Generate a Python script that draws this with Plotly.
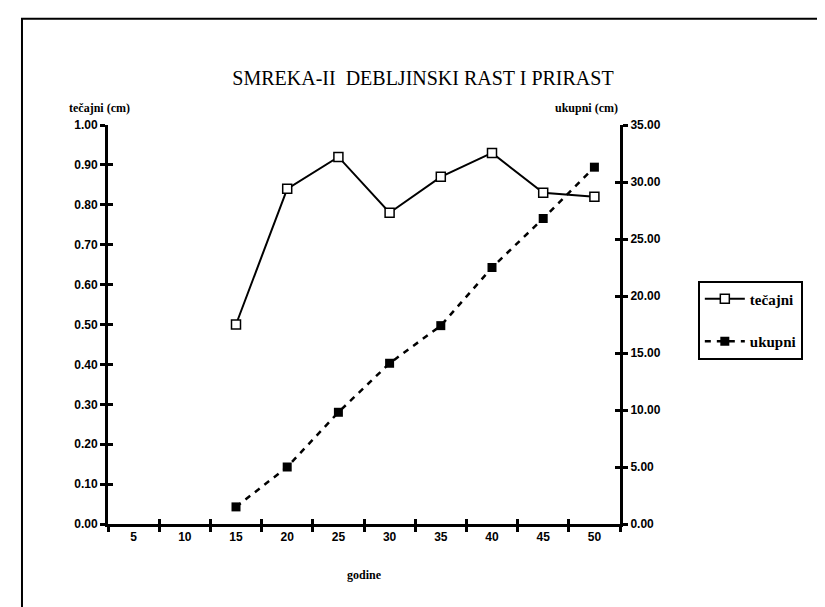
import plotly.graph_objects as go

# podaci procitani sa slike
godine = ['5', '10', '15', '20', '25', '30', '35', '40', '45', '50']
tecajni = [None, None, 0.50, 0.84, 0.92, 0.78, 0.87, 0.93, 0.83, 0.82]
ukupni = [None, None, 1.5, 5.0, 9.8, 14.1, 17.4, 22.5, 26.8, 31.3]

tick_font = dict(family='Liberation Sans Narrow, Liberation Sans, Arial', size=12,
                 color='black', weight='bold')
serif = 'Liberation Serif, Times New Roman, serif'

fig = go.Figure()

fig.add_trace(go.Scatter(
    x=godine, y=tecajni, name='tečajni', mode='lines+markers', legendgroup='a',
    line=dict(color='black', width=2),
    marker=dict(symbol='square', size=9, color='white',
                line=dict(color='black', width=1.5)),
))
fig.add_trace(go.Scatter(
    x=godine, y=ukupni, name='ukupni', mode='lines+markers', yaxis='y2',
    legendgroup='b',
    line=dict(color='black', width=2.5, dash='6px,6px'),
    marker=dict(symbol='square', size=9, color='black'),
))
# pomocni tragovi samo da se nacrtaju unutrasnje crtice (kriz-ticks)
fig.add_trace(go.Scatter(x=godine, y=tecajni, xaxis='x2', yaxis='y3',
                         mode='none', showlegend=False, hoverinfo='skip'))
fig.add_trace(go.Scatter(x=godine, y=ukupni, xaxis='x2', yaxis='y4',
                         mode='none', showlegend=False, hoverinfo='skip'))

axis_style = dict(showline=True, linecolor='black', linewidth=3, showgrid=False,
                  zeroline=False, ticks='outside', ticklen=5, tickwidth=2.5,
                  tickcolor='black', tickfont=tick_font)
inner_style = dict(showline=False, showgrid=False, zeroline=False, ticks='inside',
                   ticklen=5, tickwidth=2.5, tickcolor='black', showticklabels=False)

fig.update_layout(
    width=825, height=607,
    margin=dict(l=100, r=213, t=117, b=91, autoexpand=False),
    paper_bgcolor='white', plot_bgcolor='white',
    title=dict(text='SMREKA-II  DEBLJINSKI RAST I PRIRAST', x=0.503, xref='container',
               y=0.885, yanchor='middle',
               font=dict(family=serif, size=20, color='black')),
    xaxis=dict(type='category', categoryorder='array', categoryarray=godine,
               range=[-0.5, 9.5], tickson='boundaries', **axis_style),
    xaxis2=dict(type='category', categoryorder='array', categoryarray=godine,
                range=[-0.5, 9.5], tickson='boundaries', overlaying='x',
                side='bottom', **inner_style),
    yaxis=dict(range=[0, 1], dtick=0.1, tickformat='.2f', **axis_style),
    yaxis2=dict(range=[0, 35], dtick=5, tickformat='.2f', overlaying='y',
                side='right', **axis_style),
    yaxis3=dict(range=[0, 1], dtick=0.1, overlaying='y', side='left', **inner_style),
    yaxis4=dict(range=[0, 35], dtick=5, overlaying='y', side='right', **inner_style),
    legend=dict(x=1.152, y=0.61, xanchor='left', yanchor='top',
                bordercolor='black', borderwidth=2, bgcolor='white',
                font=dict(family=serif, size=15, color='black', weight='bold'),
                tracegroupgap=20, itemwidth=40, entrywidth=72),
    showlegend=True,
)

fig.add_annotation(text='tečajni (cm)', xref='paper', yref='paper', x=-0.08, y=1.065,
                   showarrow=False, font=dict(family=serif, size=12, color='black',
                                              weight='bold'))
fig.add_annotation(text='ukupni (cm)', xref='paper', yref='paper', x=1.0, y=1.065,
                   showarrow=False, font=dict(family=serif, size=12, color='black',
                                              weight='bold'))
fig.add_annotation(text='godine', xref='paper', yref='paper', x=0.5, y=-0.15,
                   showarrow=False, font=dict(family=serif, size=12, color='black',
                                              weight='bold'))

# okvir oko cijelog grafikona
fig.add_shape(type='rect', xref='paper', yref='paper', x0=-0.168, x1=1.42,
              y0=-0.26, y1=1.266, line=dict(color='black', width=2))

fig.write_html('out.html')
